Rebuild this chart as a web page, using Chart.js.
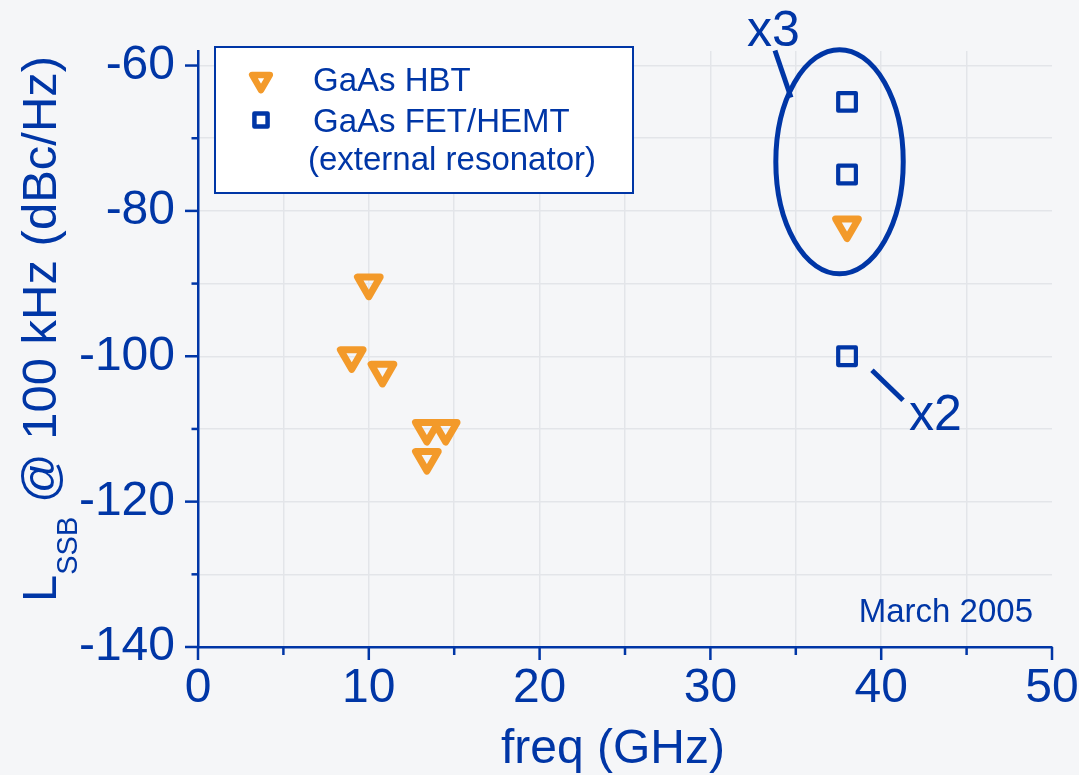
<!DOCTYPE html>
<html>
<head>
<meta charset="utf-8">
<script src="https://cdn.jsdelivr.net/npm/chart.js@4/dist/chart.umd.min.js"></script>
<style>
  html, body { margin: 0; padding: 0; background: #f5f6f8; }
  canvas { display: block; }
</style>
</head>
<body>
<canvas id="chart" width="1079" height="775"></canvas>
<script>
// Phase noise of oscillators: GaAs HBT vs. GaAs FET/HEMT (external resonator)
const hbtFreq  = [10, 9, 10.8, 13.4, 14.5, 13.4, 38];
const hbtNoise = [-90, -100, -102, -110, -110, -114, -82];
const fetFreq  = [38, 38, 38];
const fetNoise = [-65, -75, -100];

const seriesNames = ['GaAs HBT', 'GaAs FET/HEMT', '(external resonator)'];
const xLabelTicks = [0, 10, 20, 30, 40, 50];
const xMinorTicks = [0, 5, 10, 15, 20, 25, 30, 35, 40, 45, 50];
const yLabelTicks = [-140, -120, -100, -80, -60];
const yMinorTicks = [-140, -130, -120, -110, -100, -90, -80, -70, -60];
const xTitle = 'freq (GHz)';
const yTitleParts = ['L', 'SSB', ' @ 100 kHz (dBc/Hz)'];
const dateNote = 'March 2005';
const multNotes = ['x3', 'x2'];

const BLUE = '#0036a6';
const ORANGE = '#f39a2a';
const GRID = '#e3e5e9';
const FONT = "'Liberation Sans', Arial, sans-serif";

const toPoints = (xs, ys) => xs.map((x, i) => ({ x, y: ys[i] }));

// Extra drawing: tick marks, axis titles, legend box, multiplier annotations
const decor = {
  id: 'decor',
  beforeDatasetsDraw(chart) {
    chart.ctx.save();
    chart.ctx.lineJoin = 'round';
  },
  afterDatasetsDraw(chart) {
    chart.ctx.restore();
  },
  afterDraw(chart) {
    const ctx = chart.ctx;
    const xs = chart.scales.x, ys = chart.scales.y;
    const area = chart.chartArea;

    ctx.save();
    ctx.strokeStyle = BLUE;
    ctx.fillStyle = BLUE;
    ctx.lineWidth = 2.5;
    ctx.lineCap = 'butt';

    // y tick marks (long at labelled values)
    yMinorTicks.forEach(v => {
      const py = ys.getPixelForValue(v);
      const len = yLabelTicks.includes(v) ? 13 : 6.5;
      ctx.beginPath();
      ctx.moveTo(area.left - len, py);
      ctx.lineTo(area.left, py);
      ctx.stroke();
    });
    // x tick marks
    xMinorTicks.forEach(v => {
      const px = xs.getPixelForValue(v);
      const len = xLabelTicks.includes(v) ? 13 : 8;
      ctx.beginPath();
      ctx.moveTo(px, area.bottom);
      ctx.lineTo(px, area.bottom + len);
      ctx.stroke();
    });

    // x axis title
    ctx.font = `48px ${FONT}`;
    ctx.textAlign = 'center';
    ctx.textBaseline = 'alphabetic';
    ctx.fillText(xTitle, (area.left + area.right) / 2 - 12, area.bottom + 116);

    // y axis title with subscript, rotated
    ctx.save();
    ctx.translate(56, area.bottom - 45);
    ctx.rotate(-Math.PI / 2);
    ctx.textAlign = 'left';
    ctx.font = `49px ${FONT}`;
    ctx.fillText(yTitleParts[0], 0, 0);
    let w = ctx.measureText(yTitleParts[0]).width;
    ctx.font = `29px ${FONT}`;
    ctx.fillText(yTitleParts[1], w, 21);
    w += ctx.measureText(yTitleParts[1]).width;
    ctx.font = `49px ${FONT}`;
    ctx.fillText(yTitleParts[2], w, 0);
    ctx.restore();

    // date note
    ctx.font = `33px ${FONT}`;
    ctx.textAlign = 'right';
    ctx.fillText(dateNote, area.right - 19, area.bottom - 25);

    // legend box
    const lx = area.left + 17, ly = area.top - 4, lw = 418, lh = 146;
    ctx.fillStyle = '#ffffff';
    ctx.fillRect(lx, ly, lw, lh);
    ctx.lineWidth = 2;
    ctx.strokeRect(lx, ly, lw, lh);

    const ds = chart.data.datasets;
    ctx.lineJoin = 'round';
    ctx.fillStyle = 'rgba(255,255,255,0)';
    ctx.strokeStyle = ds[0].pointBorderColor;
    ctx.lineWidth = 6.5;
    Chart.helpers.drawPoint(ctx, { pointStyle: 'triangle', rotation: 180, radius: 10.2, borderWidth: 6.5 }, lx + 46, ly + 33);
    ctx.strokeStyle = ds[1].pointBorderColor;
    ctx.lineWidth = 4.5;
    Chart.helpers.drawPoint(ctx, { pointStyle: 'rect', rotation: 0, radius: 9.3, borderWidth: 4.5 }, lx + 46, ly + 73);

    ctx.fillStyle = BLUE;
    ctx.textAlign = 'left';
    ctx.font = `33px ${FONT}`;
    ctx.fillText(ds[0].label, lx + 98, ly + 44);
    ctx.fillText(ds[1].label, lx + 98, ly + 85);
    ctx.fillText(seriesNames[2], lx + 93, ly + 123);

    // ellipse around the 38 GHz cluster
    const ex = xs.getPixelForValue(37.56), ey = ys.getPixelForValue(-73.24);
    const erx = xs.getPixelForValue(37.56 + 3.73) - ex;
    const ery = ys.getPixelForValue(-73.24 - 15.42) - ey;
    ctx.strokeStyle = BLUE;
    ctx.lineWidth = 5;
    ctx.beginPath();
    ctx.ellipse(ex, ey, erx, ery, 0, 0, Math.PI * 2);
    ctx.stroke();

    // leader lines
    const seg = (x1, y1, x2, y2) => {
      ctx.beginPath();
      ctx.moveTo(xs.getPixelForValue(x1), ys.getPixelForValue(y1));
      ctx.lineTo(xs.getPixelForValue(x2), ys.getPixelForValue(y2));
      ctx.stroke();
    };
    ctx.lineCap = 'butt';
    seg(33.78, -57.94, 34.72, -64.40);
    seg(39.46, -101.92, 41.28, -106.05);

    // multiplier labels
    ctx.font = `50px ${FONT}`;
    ctx.textAlign = 'left';
    ctx.fillText(multNotes[0], xs.getPixelForValue(32.14), ys.getPixelForValue(-57.25));
    ctx.fillText(multNotes[1], xs.getPixelForValue(41.63), ys.getPixelForValue(-110.17));

    ctx.restore();
  }
};

new Chart(document.getElementById('chart'), {
  type: 'scatter',
  data: {
    datasets: [
      {
        label: seriesNames[0],
        data: toPoints(hbtFreq, hbtNoise),
        pointStyle: 'triangle',
        pointRotation: 180,
        pointRadius: 13.1,
        pointHoverRadius: 13.1,
        pointBorderWidth: 7,
        pointHoverBorderWidth: 7,
        pointBorderColor: ORANGE,
        pointBackgroundColor: 'rgba(255,255,255,0)',
        borderColor: ORANGE,
        backgroundColor: 'rgba(255,255,255,0)'
      },
      {
        label: seriesNames[1],
        data: toPoints(fetFreq, fetNoise),
        pointStyle: 'rect',
        pointRadius: 12.5,
        pointHoverRadius: 12.5,
        pointBorderWidth: 4.2,
        pointHoverBorderWidth: 4.2,
        pointBorderColor: BLUE,
        pointBackgroundColor: 'rgba(255,255,255,0)',
        borderColor: BLUE,
        backgroundColor: 'rgba(255,255,255,0)'
      }
    ]
  },
  options: {
    responsive: false,
    devicePixelRatio: 1,
    animation: false,
    events: [],
    layout: { padding: { left: 0, right: 27, top: 51, bottom: 0 } },
    plugins: {
      legend: { display: false },
      tooltip: { enabled: false },
      title: { display: false }
    },
    scales: {
      x: {
        type: 'linear',
        min: 0,
        max: 50,
        afterFit(s) { s.height = 128; },
        afterBuildTicks(s) { s.ticks = xMinorTicks.map(v => ({ value: v })); },
        ticks: {
          autoSkip: false,
          maxRotation: 0,
          padding: 0,
          color: BLUE,
          font: { family: FONT, size: 48 },
          callback: v => xLabelTicks.includes(v) ? String(v) : ''
        },
        grid: {
          color: c => (c.tick && c.tick.value > 0 && c.tick.value < 50) ? GRID : 'rgba(0,0,0,0)',
          lineWidth: 1.5,
          tickLength: 13,
          tickColor: 'rgba(0,0,0,0)'
        },
        border: { color: BLUE, width: 2.5 }
      },
      y: {
        type: 'linear',
        min: -140,
        max: -58,
        afterFit(s) { s.width = 198; },
        afterBuildTicks(s) { s.ticks = yMinorTicks.map(v => ({ value: v })); },
        ticks: {
          autoSkip: false,
          padding: 10,
          color: BLUE,
          font: { family: FONT, size: 48 },
          callback: v => yLabelTicks.includes(v) ? String(v) : ''
        },
        grid: {
          color: c => (c.tick && c.tick.value > -140) ? GRID : 'rgba(0,0,0,0)',
          lineWidth: 1.5,
          tickLength: 13,
          tickColor: 'rgba(0,0,0,0)'
        },
        border: { color: BLUE, width: 2.5 }
      }
    }
  },
  plugins: [decor]
});
</script>
</body>
</html>
